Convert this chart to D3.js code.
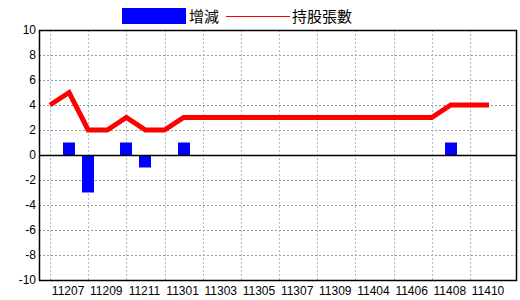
<!DOCTYPE html>
<html>
<head>
<meta charset="utf-8">
<script src="https://cdn.jsdelivr.net/npm/d3@7"></script>
<style>
body { margin: 0; background: #fff; }
text { font-family: "Liberation Sans", Arial, sans-serif; }
</style>
</head>
<body>
<svg></svg>
<script>
var months = ["11206","11207","11208","11209","11210","11211","11212","11301","11302","11303",
              "11304","11305","11306","11307","11308","11309","11403","11404","11405","11406",
              "11407","11408","11409","11410"]
var holdings = [4,5,2,2,3,2,2,3,3,3,3,3,3,3,3,3,3,3,3,3,3,4,4,4]
var changes = [0,1,-3,0,1,-1,0,1,0,0,0,0,0,0,0,0,0,0,0,0,0,1,0,0]
var yTicks = [-10,-8,-6,-4,-2,0,2,4,6,8,10]
var xLabels = ["11207","11209","11211","11301","11303","11305","11307","11309","11404","11406","11408","11410"]

var screen = {width: 520, height: 300}
var plot = {left: 39, right: 516, top: 30, bottom: 280}

var svg = d3.select("svg")
    .attr("width", screen.width)
    .attr("height", screen.height)

var xScale = d3.scalePoint()
    .domain(months)
    .range([50, 489])

var yScale = d3.scaleLinear()
    .domain([-10, 10])
    .range([plot.bottom, plot.top])

// horizontal grid
svg.append("g")
    .selectAll("line")
    .data(yTicks.filter(function(t){ return t != 0 && t != 10 && t != -10 }))
    .enter()
    .append("line")
    .attr("x1", plot.left)
    .attr("x2", plot.right)
    .attr("y1", function(t){ return yScale(t) + 0.5 })
    .attr("y2", function(t){ return yScale(t) + 0.5 })
    .attr("stroke", "#999")
    .attr("stroke-dasharray", "2,2")

// vertical grid on even months
svg.append("g")
    .selectAll("line")
    .data(months.filter(function(m, i){ return i % 2 == 0 }))
    .enter()
    .append("line")
    .attr("x1", function(m){ return Math.round(xScale(m)) + 0.5 })
    .attr("x2", function(m){ return Math.round(xScale(m)) + 0.5 })
    .attr("y1", plot.top)
    .attr("y2", plot.bottom)
    .attr("stroke", "#9ebfd0")
    .attr("stroke-dasharray", "2,2")

// bars
svg.append("g")
    .selectAll("rect")
    .data(months.map(function(m, i){ return {m: m, v: changes[i]} }).filter(function(d){ return d.v != 0 }))
    .enter()
    .append("rect")
    .attr("x", function(d){ return Math.round(xScale(d.m)) - 6 })
    .attr("width", 12)
    .attr("y", function(d){ return Math.min(yScale(d.v), yScale(0)) })
    .attr("height", function(d){ return Math.abs(yScale(d.v) - yScale(0)) })
    .attr("fill", "#0000ff")

// zero line
svg.append("line")
    .attr("x1", plot.left)
    .attr("x2", plot.right)
    .attr("y1", yScale(0) + 0.5)
    .attr("y2", yScale(0) + 0.5)
    .attr("stroke", "#000")
    .attr("stroke-width", 1.5)

// holdings line
var line = d3.line()
    .x(function(d, i){ return xScale(months[i]) })
    .y(function(d){ return yScale(d) })

svg.append("path")
    .datum(holdings)
    .attr("d", line)
    .attr("fill", "none")
    .attr("stroke", "#ff0000")
    .attr("stroke-width", 5)

// frame
svg.append("rect")
    .attr("x", plot.left + 0.5)
    .attr("y", plot.top + 0.5)
    .attr("width", plot.right - plot.left)
    .attr("height", plot.bottom - plot.top)
    .attr("fill", "none")
    .attr("stroke", "#000")
    .attr("stroke-width", 1.5)

// y labels
svg.append("g")
    .selectAll("text")
    .data(yTicks)
    .enter()
    .append("text")
    .attr("x", 36)
    .attr("y", function(t){ return yScale(t) + 4 })
    .attr("text-anchor", "end")
    .attr("font-size", 12)
    .text(function(t){ return t })

// x labels
svg.append("g")
    .selectAll("text")
    .data(xLabels)
    .enter()
    .append("text")
    .attr("x", function(m){ return xScale(m) - 1 })
    .attr("y", 295)
    .attr("text-anchor", "middle")
    .attr("font-size", 12)
    .text(function(m){ return m })

// legend
var legend = svg.append("g")
legend.append("rect")
    .attr("x", 122).attr("y", 8)
    .attr("width", 64).attr("height", 16)
    .attr("fill", "#0000ff")
legend.append("text")
    .attr("x", 189).attr("y", 22)
    .attr("font-size", 15)
    .style("font-family", "'Noto Sans CJK TC', sans-serif")
    .text("增減")
legend.append("line")
    .attr("x1", 226).attr("x2", 290)
    .attr("y1", 16.5).attr("y2", 16.5)
    .attr("stroke", "#ff0000")
legend.append("text")
    .attr("x", 292).attr("y", 22)
    .attr("font-size", 15)
    .style("font-family", "'Noto Sans CJK TC', sans-serif")
    .text("持股張數")
</script>
</body>
</html>
